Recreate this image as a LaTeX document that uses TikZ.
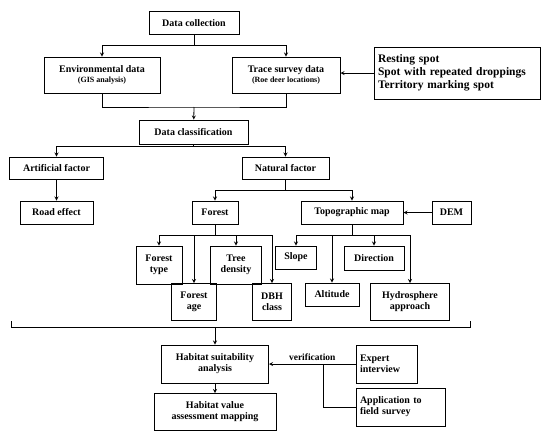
\documentclass[tikz,border=0pt]{standalone}
\usepackage{fontspec}
\setmainfont{Liberation Serif}
\usepackage{tikz}
\usetikzlibrary{calc, positioning}
\newcommand{\smalltxt}{\bfseries\fontsize{8}{8.5}\selectfont}

\begin{document}
\begin{tikzpicture}[
  x=1pt, y=-1pt, font=\bfseries\fontsize{10}{11}\selectfont, >=stealth,
  line width=0.8pt,
  blk/.style={draw, line width=1pt, inner sep=1pt, align=center},
  lft/.style={blk, inner xsep=4pt, align=left}]
  \useasboundingbox (0,0) rectangle (550,432);
  % Data collection
  \node[blk, minimum width=90, minimum height=23] (coll) at (194,23) {Data collection};
  \node[blk, minimum width=116, minimum height=36] (env) at (102,75)
    {Environmental data\\[-1pt]{\smalltxt (GIS analysis)}};
  \node[blk, minimum width=108, minimum height=36] (trace) at (286,75)
    {Trace survey data\\[-1pt]{\smalltxt (Roe deer locations)}};
  \node[lft, text width=158, minimum height=52, font=\bfseries\fontsize{11.5}{13}\selectfont] (spots) at (457,73)
    {Resting spot\\Spot with repeated droppings\\Territory marking spot};
  % Classification
  \node[blk, minimum width=109, minimum height=24] (cls) at (193.5,132) {Data classification};
  \node[blk, minimum width=94, minimum height=22] (art) at (56.5,168) {Artificial factor};
  \node[blk, minimum width=87, minimum height=22] (nat) at (285.5,168) {Natural factor};
  \node[blk, minimum width=73, minimum height=23] (road) at (56.5,212.5) {Road effect};
  \node[blk, minimum width=46, minimum height=23] (forest) at (215,212.5) {Forest};
  \node[blk, minimum width=102, minimum height=23] (topo) at (352,212.5) {Topographic map};
  \node[blk, minimum width=39, minimum height=23] (dem) at (451.5,212.5) {DEM};
  % Forest factors
  \node[blk, minimum width=46, minimum height=38] (ftype) at (159,265) {Forest\\type};
  \node[blk, minimum width=51, minimum height=38] (tdens) at (236,265) {Tree\\density};
  \node[blk, minimum width=45, minimum height=37] (fage) at (194,302) {Forest\\age};
  \node[blk, minimum width=39, minimum height=37] (dbh) at (272,302) {DBH\\class};
  % Topographic factors
  \node[blk, minimum width=41, minimum height=23] (slope) at (296,257.5) {Slope};
  \node[blk, minimum width=60, minimum height=24] (dir) at (374,258) {Direction};
  \node[blk, minimum width=54, minimum height=23] (alt) at (332,294.5) {Altitude};
  \node[blk, minimum width=79, minimum height=37] (hydro) at (410,302) {Hydrosphere\\approach};
  % Analysis
  \node[blk, minimum width=107, minimum height=38] (hsa) at (215,364) {Habitat suitability\\analysis};
  \node[blk, minimum width=122, minimum height=37] (hvam) at (215,412) {Habitat value\\assessment mapping};
  \node[lft, text width=53, minimum height=38] (expert) at (386.5,364) {Expert\\interview};
  \node[lft, text width=81, minimum height=38] (appl) at (400.5,407) {Application to\\field survey};
  % Branch points
  \coordinate (b1) at (194,45);
  \coordinate (m1) at (194,107);
  \coordinate (b2) at (193.5,146);
  \coordinate (b3) at (285.5,190);
  \coordinate (b4) at (215,235);
  \coordinate (b5) at (352,235);
  \coordinate (brL) at (11,321);
  \coordinate (brR) at (470,321);
  \coordinate (brM) at (215,327);
  \coordinate (vj) at (323,364);
  % Connectors
  \draw (coll) -- (b1);
  \draw[->] (b1) -| (env); \draw[->] (b1) -| (trace);
  \draw[->] (spots.west) -- (spots.west -| trace.east);
  \draw (env.south) |- (m1) -| (trace.south);
  \draw[->] (m1) -- (cls);
  \draw (cls) -- (b2);
  \draw[->] (b2) -| (art); \draw[->] (b2) -| (nat);
  \draw[->] (art) -- (road);
  \draw (nat) -- (b3);
  \draw[->] (b3) -| (forest); \draw[->] (b3) -| (topo);
  \draw[->] (dem) -- (topo);
  \draw (forest) -- (b4);
  \draw[->] (b4) -| (ftype); \draw[->] (b4) -| (fage);
  \draw[->] (b4) -| (tdens); \draw[->] (b4) -| (dbh);
  \draw (topo) -- (b5);
  \draw[->] (b5) -| (slope); \draw[->] (b5) -| (alt);
  \draw[->] (b5) -| (dir); \draw[->] (b5) -| (hydro);
  \draw (brL) -- ++(0,6) -| (brR);
  \draw[->] (brM) -- (hsa);
  \draw[->] (hsa) -- (hvam);
  \draw[->] (expert.west) -- node[above, font=\bfseries\fontsize{9.5}{10}\selectfont]{verification} (expert.west -| hsa.east);
  \draw (appl.west) -| (vj);
\end{tikzpicture}
\end{document}
